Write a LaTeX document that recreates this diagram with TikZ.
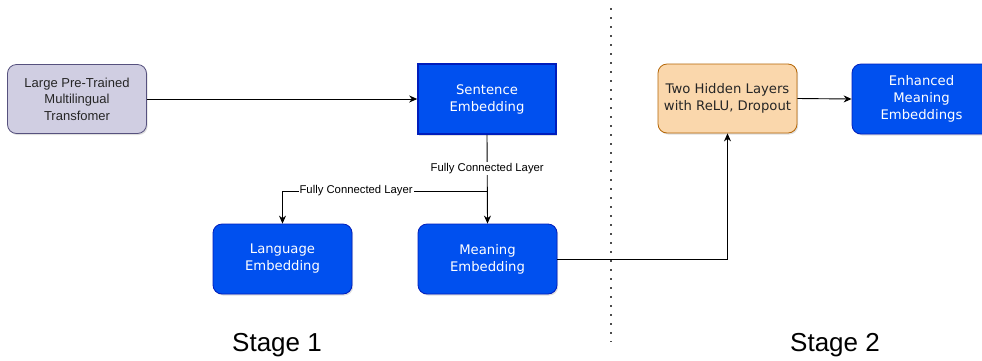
\documentclass[tikz,border=0pt]{standalone}
\usepackage{fontspec}
\setmainfont{Liberation Sans}
\newfontfamily\verd{DejaVu Sans}
\usetikzlibrary{arrows.meta,shadows}
\definecolor{bluefill}{HTML}{0050EF}
\definecolor{bluedraw}{HTML}{001DBC}
\definecolor{lilacfill}{HTML}{D0CEE2}
\definecolor{lilacdraw}{HTML}{56517E}
\definecolor{orfill}{HTML}{FAD7AC}
\definecolor{ordraw}{HTML}{B46504}
\tikzset{
  box/.style={minimum width=139pt, minimum height=69pt, align=center, inner sep=0pt,
    drop shadow={shadow xshift=1.2pt, shadow yshift=-1.5pt, opacity=0.25}},
  bluebox/.style={box, rounded corners=9pt, fill=bluefill, draw=bluedraw, line width=0.8pt,
    text=white, font=\verd\fontsize{13.2}{17}\selectfont},
  sentbox/.style={box, fill=bluefill, draw=bluedraw, line width=1.6pt,
    text=white, font=\verd\fontsize{13.2}{17}\selectfont},
  lilacbox/.style={box, rounded corners=9pt, fill=lilacfill, draw=lilacdraw, line width=0.8pt,
    text=black!85, font=\fontsize{13}{16.5}\selectfont},
  orbox/.style={box, rounded corners=9pt, fill=orfill, draw=ordraw, line width=0.8pt,
    text=black!85, font=\verd\fontsize{13.2}{16.5}\selectfont},
  conn/.style={line width=0.9pt, -{Stealth[length=8pt,width=7pt]}},
  elabel/.style={fill=white, inner sep=1pt, font=\fontsize{11.3}{13}\selectfont},
  stagelbl/.style={font=\fontsize{26}{30}\selectfont, inner sep=0pt}
}
\begin{document}
\begin{tikzpicture}[x=1pt,y=-1pt]
\useasboundingbox (0,0) rectangle (982,360);
\fill[white] (0,0) rectangle (982,360);
\draw[line width=1.6pt, black!70, dash pattern=on 1.6pt off 7.4pt] (611,8) -- (611,342);

\node[lilacbox] (lpt) at (77,99) {Large Pre-Trained\\Multilingual\\Transfomer};
\node[sentbox, minimum width=138pt, minimum height=70pt] (sent) at (487,99) {Sentence\\Embedding};
\node[bluebox, minimum height=70pt] (lang) at (282.5,259) {Language\\Embedding};
\node[bluebox, minimum height=70pt] (mean) at (487.5,259) {Meaning\\Embedding};
\node[orbox] (hid) at (727.5,98.5) {Two Hidden Layers\\with ReLU, Dropout};
\node[bluebox, minimum height=70pt] (enh) at (921.5,99) {Enhanced\\Meaning\\Embeddings};

\coordinate (br) at (487,191);
\draw[conn] (lpt.east) -- (sent.west);
\draw[conn] (sent.south) -- node[elabel, pos=0.38] {Fully Connected Layer} (mean.north);
\draw[conn] (br) -| node[elabel, pos=0.32] {Fully Connected Layer} (lang.north);
\draw[conn] (mean.east) -| (hid.south);
\draw[conn] (hid.east) -- (enh.west);

\node[stagelbl] (s1) at (277,345) {Stage 1};
\node[stagelbl] (s2) at (835,345) {Stage 2};
\end{tikzpicture}
\end{document}
